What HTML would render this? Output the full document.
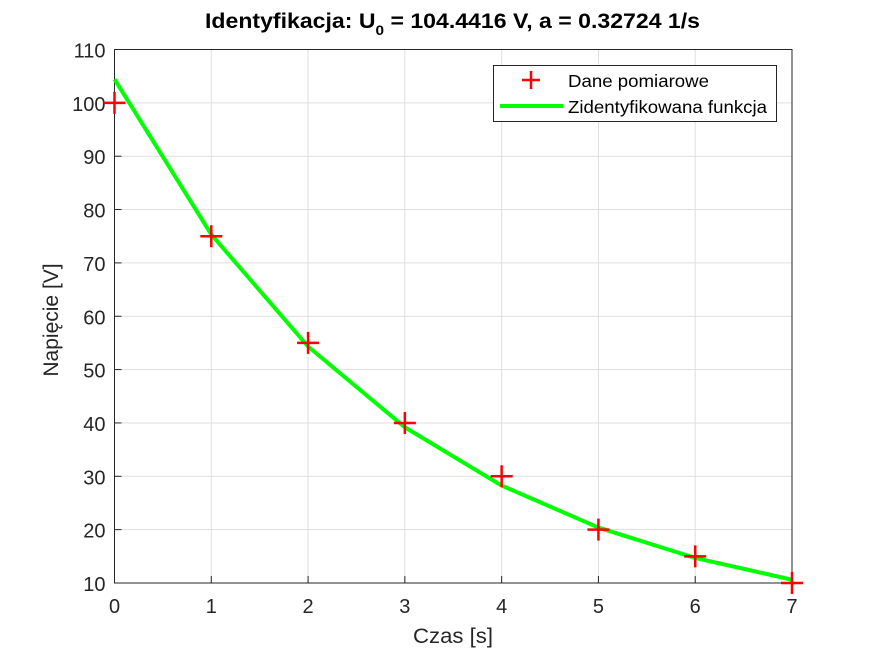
<!DOCTYPE html>
<html><head><meta charset="utf-8"><style>
body{margin:0;background:#fff;}
svg{display:block;font-family:"Liberation Sans",Arial,sans-serif;}
</style></head><body>
<svg id="chart" width="875" height="656">
<rect width="875" height="656" fill="#fff"/>
<g id="grid"></g>
<g id="axes"></g>
<g id="series"></g>
<text x="205" y="28" textLength="495" lengthAdjust="spacingAndGlyphs" font-size="21" font-weight="bold" fill="#000">Identyfikacja: U<tspan font-size="14" dy="7">0</tspan><tspan dy="-7"> = 104.4416 V, a = 0.32724 1/s</tspan></text>
<text x="413" y="643" textLength="80" lengthAdjust="spacingAndGlyphs" font-size="21" fill="#262626">Czas [s]</text>
<text transform="translate(58,320) rotate(-90)" text-anchor="middle" font-size="21" fill="#262626">Napięcie [V]</text>
<g>
<rect x="493.5" y="65.5" width="283" height="56" fill="#fff" stroke="#262626" stroke-width="1"/>
<g>
<path d="M531 71 V89 M522 80 H540" stroke="#f00" stroke-width="2.5"/>
<text x="568" y="87" textLength="141" lengthAdjust="spacingAndGlyphs" font-size="17.5" fill="#000">Dane pomiarowe</text>
</g>
<g>
<path d="M500 106 H563" stroke="#0f0" stroke-width="4"/>
<text x="568" y="113" textLength="199" lengthAdjust="spacingAndGlyphs" font-size="17.5" fill="#000">Zidentyfikowana funkcja</text>
</g>
</g>
</svg>
<script>
const xTicks=[0,1,2,3,4,5,6,7];
const yTicks=[10,20,30,40,50,60,70,80,90,100,110];
const measT=[0,1,2,3,4,5,6,7];
const measV=[100,75,55,40,30,20,15,10];
const fitT=[0,1,2,3,4,5,6,7];
const fitV=[104.44,75.33,54.33,39.19,28.27,20.39,14.70,10.61];
const L=114.5,R=792,T=49.5,B=583;
const sx=v=>L+(v-0)/(7-0)*(R-L);
const sy=v=>B-(v-10)/(110-10)*(B-T);
const NS="http://www.w3.org/2000/svg";
function mk(tag,attrs,parent){const e=document.createElementNS(NS,tag);for(const k in attrs)e.setAttribute(k,attrs[k]);parent.appendChild(e);return e;}
const grid=document.getElementById('grid'),axes=document.getElementById('axes'),ser=document.getElementById('series');
xTicks.forEach(t=>{
 const x=sx(t);
 const g=mk('line',{x1:x,x2:x,y1:T,y2:B,stroke:'#dfdfdf','stroke-width':1},grid);
 
 
 const tk=mk('line',{x1:x,x2:x,y1:B,y2:B-7,stroke:'#262626'},axes);
 
 
 const lb=mk('text',{x:x,y:B+30,'text-anchor':'middle','font-size':20,fill:'#262626'},axes);
 lb.textContent=t;
 
 
});
yTicks.forEach(t=>{
 const y=sy(t);
 const g=mk('line',{x1:L,x2:R,y1:y,y2:y,stroke:'#dfdfdf','stroke-width':1},grid);
 
 
 const tk=mk('line',{x1:L,x2:L+7,y1:y,y2:y,stroke:'#262626'},axes);
 
 
 const lb=mk('text',{x:L-9,y:y+8,'text-anchor':'end','font-size':20,fill:'#262626'},axes);
 lb.textContent=t;
 
 
});
const box=mk('rect',{x:L,y:T,width:R-L,height:B-T,fill:'none',stroke:'#262626','stroke-width':1},axes);


const pts=fitT.map((t,i)=>sx(t)+','+sy(fitV[i])).join(' ');
const line=mk('polyline',{points:pts,fill:'none',stroke:'#00ff00','stroke-width':4,'stroke-linejoin':'round'},ser);


measT.forEach((t,i)=>{
 const x=sx(t),y=sy(measV[i]);
 const p=mk('path',{d:`M${x-11} ${y} H${x+11} M${x} ${y-11} V${y+11}`,stroke:'#ff0000','stroke-width':2.5},ser);
 
 
});
</script>
</body></html>
